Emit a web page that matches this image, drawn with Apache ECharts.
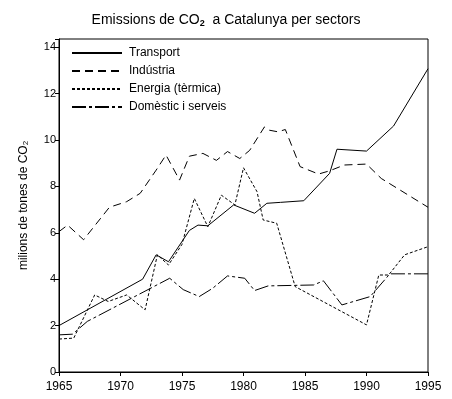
<!DOCTYPE html>
<html>
<head>
<meta charset="utf-8">
<script src="https://cdn.jsdelivr.net/npm/echarts@6/dist/echarts.min.js"></script>
<style>
  html, body { margin: 0; padding: 0; background: #fff; }
  #chart { width: 452px; height: 399px; }
</style>
</head>
<body>
<div id="chart"></div>
<script>
// values (year, millions of tonnes CO2)
const transportYears = [1965, 1971.8, 1972.9, 1973.9, 1975.6, 1976.3, 1977.1, 1979.2, 1980.9, 1981.9, 1983, 1984.9, 1987, 1987.6, 1990, 1992.2, 1995];
const transportValues = [2.0, 4.0, 5.05, 4.75, 6.1, 6.33, 6.3, 7.2, 6.84, 7.27, 7.31, 7.38, 8.56, 9.6, 9.52, 10.6, 13.07];

const industriaYears = [1965, 1965.7, 1967, 1969.1, 1970.5, 1971.6, 1972.9, 1973.7, 1974.8, 1975.6, 1976.7, 1977.8, 1978.7, 1979.7, 1980.5, 1981.7, 1982.1, 1982.8, 1983.4, 1984.6, 1986.1, 1987, 1988.2, 1990, 1991.2, 1995];
const industriaValues = [6.05, 6.33, 5.7, 7.1, 7.34, 7.7, 8.7, 9.35, 8.27, 9.3, 9.42, 9.12, 9.5, 9.2, 9.55, 10.56, 10.42, 10.35, 10.45, 8.85, 8.53, 8.67, 8.92, 8.96, 8.34, 7.1];

const energiaYears = [1965, 1966.2, 1967.9, 1969, 1970.5, 1972, 1973, 1973.9, 1975, 1976, 1977.1, 1978.2, 1979.3, 1980, 1981.1, 1981.6, 1982.7, 1984.2, 1990, 1991, 1991.8, 1993.1, 1995];
const energiaValues = [1.42, 1.46, 3.32, 3.04, 3.32, 2.68, 5.05, 4.61, 5.5, 7.48, 6.26, 7.62, 7.2, 8.8, 7.77, 6.55, 6.41, 3.68, 2.03, 4.18, 4.18, 5.05, 5.4];

const domesticYears = [1965, 1966.1, 1967.3, 1974, 1975.1, 1976.4, 1977.5, 1978.7, 1980.1, 1980.9, 1982, 1985.7, 1986.5, 1988, 1990.3, 1991.9, 1995];
const domesticValues = [1.6, 1.63, 2.18, 4.04, 3.55, 3.25, 3.61, 4.14, 4.04, 3.51, 3.71, 3.75, 3.93, 2.89, 3.25, 4.23, 4.23];

const seriesNames = ['Transport', 'Indústria', 'Energia (tèrmica)', 'Domèstic i serveis'];

function pairs(xs, ys) {
    return xs.map((x, i) => [x, ys[i]]);
}

const font = 'Liberation Sans, Arial, sans-serif';

function lineSeries(name, data, dash) {
    return {
        name: name,
        type: 'line',
        data: data,
        symbol: 'none',
        showSymbol: false,
        silent: true,
        animation: false,
        lineStyle: { color: '#000', width: 1, type: dash },
        itemStyle: { color: '#000' }
    };
}

const chart = echarts.init(document.getElementById('chart'));

const option = {
    backgroundColor: '#fff',
    animation: false,
    title: {
        text: '{a|Emissions de CO}{s|2}{a|  a Catalunya per sectors}',
        left: 'center',
        top: 8,
        textStyle: {
            rich: {
                a: { fontFamily: font, fontSize: 14, color: '#000', fontWeight: 'normal' },
                s: { fontFamily: font, fontSize: 9, color: '#000', verticalAlign: 'bottom', padding: [6, 0, 0, 0] }
            }
        }
    },
    legend: {
        orient: 'vertical',
        left: 66,
        top: 42,
        itemWidth: 50,
        itemHeight: 10,
        itemGap: 6,
        selectedMode: false,
        itemStyle: { opacity: 0, borderWidth: 0 },
        textStyle: { fontFamily: font, fontSize: 12, color: '#000', padding: [0, 0, 0, 2] },
        data: seriesNames
    },
    grid: {
        left: 59,
        right: 24,
        top: 39,
        bottom: 27,
        show: true,
        borderColor: '#000',
        borderWidth: 1
    },
    xAxis: {
        type: 'value',
        min: 1965,
        max: 1995,
        interval: 5,
        splitLine: { show: false },
        axisLine: { lineStyle: { color: '#000', width: 1 } },
        axisTick: { show: true, length: 4, lineStyle: { color: '#000' } },
        axisLabel: {
            fontFamily: font, fontSize: 12, color: '#000', margin: 9,
            formatter: v => String(v)
        }
    },
    yAxis: {
        type: 'value',
        min: 0,
        max: 14.35,
        interval: 2,
        name: '{a|milions de tones de CO}{s|2}',
        nameLocation: 'middle',
        nameGap: 29,
        nameRotate: 90,
        nameTextStyle: {
            rich: {
                a: { fontFamily: font, fontSize: 12, color: '#000' },
                s: { fontFamily: font, fontSize: 8, color: '#000', verticalAlign: 'bottom', padding: [5, 0, 0, 0] }
            }
        },
        splitLine: { show: false },
        axisLine: { lineStyle: { color: '#000', width: 1 } },
        axisTick: { show: true, length: 4, lineStyle: { color: '#000' } },
        axisLabel: {
            fontFamily: font, fontSize: 11, color: '#000', margin: 3,
            formatter: v => (v % 2 === 0 ? String(v) : '')
        }
    },
    series: [
        lineSeries(seriesNames[0], pairs(transportYears, transportValues), 'solid'),
        lineSeries(seriesNames[1], pairs(industriaYears, industriaValues), [8, 5]),
        lineSeries(seriesNames[2], pairs(energiaYears, energiaValues), [3, 2]),
        lineSeries(seriesNames[3], pairs(domesticYears, domesticValues), [14, 3, 3, 3])
    ]
};

chart.setOption(option);
</script>
</body>
</html>
